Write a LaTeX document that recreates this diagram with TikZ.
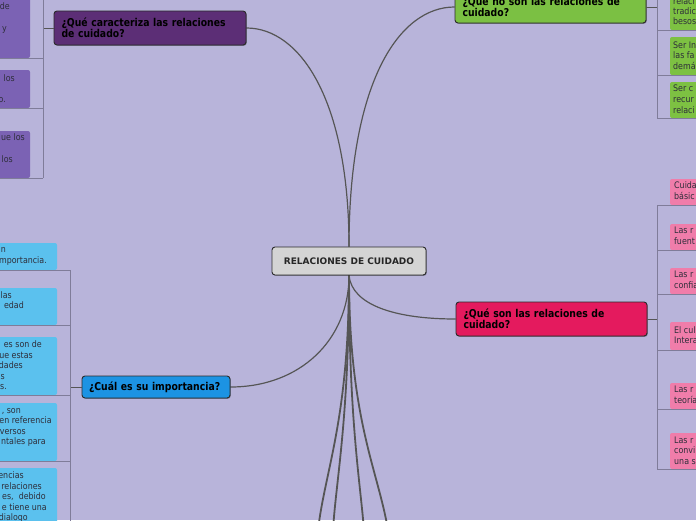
\documentclass[tikz,border=0pt]{standalone}
\usepackage{fontspec}
\setmainfont{DejaVu Sans}
\newfontfamily\hfont[FakeStretch=0.86]{DejaVu Sans}
\newfontfamily\kfont[FakeStretch=0.88]{DejaVu Sans}
\usetikzlibrary{shadows}
\definecolor{bgc}{HTML}{B8B4DA}
\definecolor{hborder}{HTML}{2B2B2B}
\definecolor{hpurple}{HTML}{5C2E76}
\definecolor{hgreen}{HTML}{7BC043}
\definecolor{hpink}{HTML}{E41A5E}
\definecolor{hblue}{HTML}{1C93E3}
\definecolor{hcenter}{HTML}{D4D4D4}
\definecolor{cpurple}{HTML}{7B62B4}
\definecolor{cgreen}{HTML}{7DC142}
\definecolor{cpink}{HTML}{F07DAA}
\definecolor{cblue}{HTML}{5BC1EE}
\definecolor{conncol}{HTML}{555555}
\definecolor{ulcol}{HTML}{7F7C99}
\definecolor{ctext}{HTML}{2E2E3A}
\pgfdeclarelayer{back}
\pgfdeclarelayer{lines}
\pgfsetlayers{back,lines,main}
\tikzset{
  head/.style={draw=hborder, line width=0.9pt, rounded corners=3pt, inner xsep=7.5pt, inner ysep=0pt,
    align=left, text=black, font=\hfont\bfseries\fontsize{10.8}{11}\selectfont,
    drop shadow={shadow xshift=0.8pt, shadow yshift=-0.8pt, opacity=0.35, fill=black}},
  centerbox/.style={draw=hborder, line width=0.9pt, rounded corners=3pt, fill=hcenter, inner sep=0pt,
    text=black!85, font=\bfseries\fontsize{9}{11}\selectfont,
    drop shadow={shadow xshift=0.8pt, shadow yshift=-0.8pt, opacity=0.35, fill=black}},
  cbox/.style={rounded corners=2pt, inner sep=0pt},
  fragL/.style={anchor=east, inner sep=0pt, text=ctext, text height=6.5pt, text depth=2pt,
    font=\kfont\fontsize{9}{11}\selectfont},
  fragR/.style={fragL, anchor=west},
  conn/.style={draw=conncol, line width=1.2pt},
  trunk/.style={draw=conncol, line width=1.8pt},
  ul/.style={draw=ulcol, line width=0.9pt}
}
\begin{document}
\begin{tikzpicture}[x=1pt,y=-1pt]
\useasboundingbox (0,0) rectangle (696,520);
\begin{pgfonlayer}{back}
\fill[bgc] (0,0) rectangle (696,520);
\end{pgfonlayer}
\clip (0,0) rectangle (696,520);

% central and heading nodes
\node[centerbox, minimum width=154pt, minimum height=28pt] (c) at (349,261) {RELACIONES DE CUIDADO};
\node[head, fill=hpurple, minimum height=34pt, text width=177pt] (qc) at (150,28)
  {¿Qué caracteriza las relaciones\\de cuidado?};
\node[head, fill=hgreen, minimum height=32pt, text width=176pt] (qn) at (550.5,7)
  {¿Que no son las relaciones de\\cuidado?};
\node[head, fill=hpink, minimum height=34pt, text width=176pt] (qs) at (551.5,319)
  {¿Qué son las relaciones de\\cuidado?};
\node[head, fill=hblue, minimum height=22pt, inner xsep=7pt, text width=134pt] (qi) at (156,387)
  {¿Cuál es su importancia?};

% coordinates
\coordinate (pj) at (43,28);
\coordinate (ptop) at (43,-5);
\coordinate (gj) at (657,7);
\coordinate (gtop) at (657,-5);
\coordinate (kj) at (657,319);
\coordinate (bj) at (70,387);
\coordinate (bbot) at (70,530);
\coordinate (d1) at (318,530);
\coordinate (d2) at (333,530);
\coordinate (d3) at (364,530);
\coordinate (d4) at (388,530);

% main connectors
\begin{pgfonlayer}{lines}
\draw[conn] (c.north) .. controls (349,100) and (300,28) .. (qc.east);
\draw[conn] (c.north) .. controls (349,80) and (400,7) .. (qn.west);
\draw[conn] (c.south) .. controls (352,305) and (395,319) .. (qs.west);
\draw[conn] (c.south) .. controls (349,340) and (300,387) .. (qi.east);
\draw[trunk] (c.south) .. controls (349,420) and (325,470) .. (d1);
\draw[trunk] (c.south) .. controls (349,420) and (336,480) .. (d2);
\draw[trunk] (c.south) .. controls (349,420) and (360,480) .. (d3);
\draw[trunk] (c.south) .. controls (349,420) and (378,470) .. (d4);
\end{pgfonlayer}

% purple children
\node[cbox, fill=cpurple, minimum width=40pt, minimum height=68pt] (p1) at (10,24) {};
\node[cbox, fill=cpurple, minimum width=40pt, minimum height=38pt] (p2) at (10,89) {};
\node[cbox, fill=cpurple, minimum width=40pt, minimum height=47pt] (p3) at (10,154.5) {};
\node[fragL] (tp1) at (10,7) {de};
\node[fragL] (tp2) at (7,29) {y};
\node[fragL] (tp3) at (15,79) {los};
\node[fragL] (tp4) at (6,100) {o.};
\node[fragL] (tp5) at (25,138) {ue los};
\node[fragL] (tp6) at (13,160) {los};
\draw[conn, line width=1pt] (qc.west) -- (pj);
\draw[ul] (ptop) -- (pj |- p3.south);
\draw[ul] (p1.south west) -- (pj |- p1.south);
\draw[ul] (p2.south west) -- (pj |- p2.south);
\draw[ul] (p3.south west) -- (pj |- p3.south);

% green children
\node[cbox, fill=cgreen, minimum width=40pt, minimum height=40pt] (g1) at (690,10) {};
\node[cbox, fill=cgreen, minimum width=40pt, minimum height=38pt] (g2) at (690,56) {};
\node[cbox, fill=cgreen, minimum width=40pt, minimum height=36pt] (g3) at (690,100) {};
\node[fragR] (tg1) at (673,2) {relaci};
\node[fragR] (tg2) at (673,12) {tradic};
\node[fragR] (tg3) at (673,22) {besos};
\node[fragR] (tg4) at (673,46) {Ser In};
\node[fragR] (tg5) at (673,56) {las fa};
\node[fragR] (tg6) at (673,67) {demá};
\node[fragR] (tg7) at (673,89) {Ser c};
\node[fragR] (tg8) at (673,100) {recur};
\node[fragR] (tg9) at (673,111) {relaci};
\draw[conn, line width=1pt] (qn.east) -- (gj);
\draw[ul] (gtop) -- (gj |- g3.south);
\draw[ul] (gj |- g1.south) -- (g1.south east);
\draw[ul] (gj |- g2.south) -- (g2.south east);
\draw[ul] (gj |- g3.south) -- (g3.south east);

% pink children
\node[cbox, fill=cpink, minimum width=40pt, minimum height=26pt] (k1) at (690,192) {};
\node[cbox, fill=cpink, minimum width=40pt, minimum height=26pt] (k2) at (690,237) {};
\node[cbox, fill=cpink, minimum width=40pt, minimum height=26pt] (k3) at (690,281) {};
\node[cbox, fill=cpink, minimum width=40pt, minimum height=28pt] (k4) at (690,336) {};
\node[cbox, fill=cpink, minimum width=40pt, minimum height=26pt] (k5) at (690,396) {};
\node[cbox, fill=cpink, minimum width=40pt, minimum height=36pt] (k6) at (690,451) {};
\node[fragR] (tk1) at (674,186) {Cuida};
\node[fragR] (tk2) at (674,197) {básic};
\node[fragR] (tk3) at (674,231) {Las r};
\node[fragR] (tk4) at (674,242) {fuent};
\node[fragR] (tk5) at (674,275) {Las r};
\node[fragR] (tk6) at (674,286) {confia};
\node[fragR] (tk7) at (674,331) {El cul};
\node[fragR] (tk8) at (674,341) {Intera};
\node[fragR] (tk9) at (674,390) {Las r};
\node[fragR] (tk10) at (674,401) {teoría};
\node[fragR] (tk11) at (674,441) {Las r};
\node[fragR] (tk12) at (674,451) {convi};
\node[fragR] (tk13) at (674,462) {una s};
\draw[conn, line width=1pt] (qs.east) -- (kj);
\draw[ul] (kj |- k1.south) -- (kj |- k6.south);
\foreach \k in {k1,k2,k3,k4,k5,k6} { \draw[ul] (kj |- \k.south) -- (\k.south east); }

% blue children
\node[cbox, fill=cblue, minimum width=67pt, minimum height=27pt] (b1) at (23.5,256.5) {};
\node[cbox, fill=cblue, minimum width=67pt, minimum height=37pt] (b2) at (23.5,306.5) {};
\node[cbox, fill=cblue, minimum width=67pt, minimum height=58pt] (b3) at (23.5,366) {};
\node[cbox, fill=cblue, minimum width=67pt, minimum height=58pt] (b4) at (23.5,432) {};
\node[cbox, fill=cblue, minimum width=67pt, minimum height=62pt] (b5) at (23.5,499) {};
\node[fragL] (tb1) at (6,250) {n};
\node[fragL] (tb2) at (47,261) {mportancia.};
\node[fragL] (tb3) at (12,296) {las};
\node[fragL] (tb4) at (24,306) {edad};
\node[fragL] (tb5) at (42,345) {es son de};
\node[fragL] (tb6) at (33,356) {ue estas};
\node[fragL] (tb7) at (23,366) {dades};
\node[fragL] (tb8) at (5,377) {s};
\node[fragL] (tb9) at (7,387) {s.};
\node[fragL] (tb10) at (21,411) {, son};
\node[fragL] (tb11) at (52,421) {en referencia};
\node[fragL] (tb12) at (26,432) {versos};
\node[fragL] (tb13) at (46,442) {ntales para};
\node[fragL] (tb14) at (24,476) {encias};
\node[fragL] (tb15) at (42,487) {relaciones};
\node[fragL] (tb16) at (46,497) {es,\ \ debido};
\node[fragL] (tb17) at (47,508) {e tiene una};
\node[fragL] (tb18) at (28,518) {dialogo};
\draw[conn, line width=1pt] (qi.west) -- (bj);
\draw[ul] (bj |- b1.south) -- (bbot);
\foreach \b in {b1,b2,b3,b4} { \draw[ul] (\b.south west) -- (bj |- \b.south); }
\end{tikzpicture}
\end{document}
